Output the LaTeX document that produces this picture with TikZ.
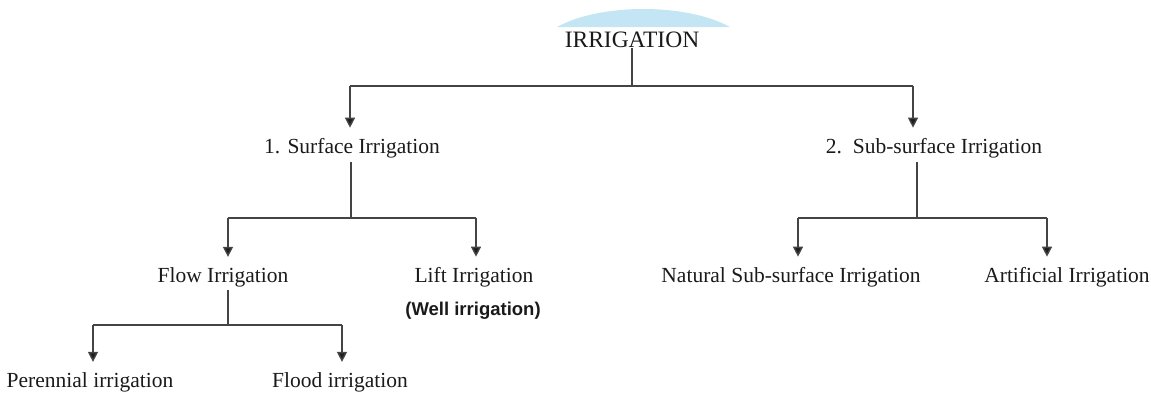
\documentclass[tikz,border=0pt]{standalone}
\usepackage{fontspec}
\setmainfont{Liberation Serif}
\newfontfamily\wellfont{Liberation Sans}
\usetikzlibrary{arrows.meta}
\definecolor{linegray}{HTML}{444444}
\definecolor{tipgray}{HTML}{1E1E1E}
\definecolor{txtgray}{HTML}{1A1A1A}
\definecolor{arcblue}{HTML}{C4E6F4}
\tikzset{
  lbl/.style={anchor=base, inner xsep=0pt, inner ysep=1pt, text=txtgray,
    font=\fontsize{21.5}{24}\selectfont},
  toplbl/.style={lbl, font=\fontsize{23.5}{26}\selectfont},
  welllbl/.style={anchor=base, inner sep=0pt, text=txtgray,
    font=\wellfont\bfseries\fontsize{18.5}{21}\selectfont},
  ln/.style={draw=linegray, line width=1.4pt},
  arr/.style={ln, -{Triangle[width=10pt,length=10pt,fill=tipgray]}, shorten >=9pt}
}
\begin{document}
\begin{tikzpicture}[x=1pt,y=-1pt]
\useasboundingbox (0,0) rectangle (1151,392);
% light blue arc at top
\fill[arcblue] (557,27) .. controls (600,3) and (687,3) .. (730,27) -- cycle;

% nodes
\node[toplbl] (irr) at (632,47) {IRRIGATION};
\node[lbl] (surf) at (352,153) {1. Surface Irrigation};
\node[lbl] (sub) at (934,153) {2.\, Sub-surface Irrigation};
\node[lbl] (flow) at (223,282) {Flow Irrigation};
\node[lbl] (lift) at (474,282) {Lift Irrigation};
\node[welllbl] (well) at (473,315) {(Well irrigation)};
\node[lbl] (nat) at (791,282) {Natural Sub-surface Irrigation};
\node[lbl] (art) at (1067,282) {Artificial Irrigation};
\node[lbl] (per) at (90,387) {Perennial irrigation};
\node[lbl] (flood) at (340,387) {Flood irrigation};

% junction coordinates
\coordinate (j0) at (632,86);
\coordinate (c1l) at (350,86);
\coordinate (c1r) at (913,86);
\coordinate (j1) at (351,218);
\coordinate (c2l) at (228,218);
\coordinate (c2r) at (476,218);
\coordinate (j2) at (917,218);
\coordinate (c3l) at (798,218);
\coordinate (c3r) at (1047,218);
\coordinate (j3) at (228,325);
\coordinate (c4l) at (93,325);
\coordinate (c4r) at (342,325);

% level 1
\draw[ln] (irr.south -| j0) -- (j0);
\draw[ln] (c1l) -- (c1r);
\draw[arr] (c1l) -- (c1l |- surf.north);
\draw[arr] (c1r) -- (c1r |- sub.north);

% surface irrigation
\draw[ln] ([yshift=-3pt]surf.south -| j1) -- (j1);
\draw[ln] (c2l) -- (c2r);
\draw[arr] (c2l) -- (c2l |- flow.north);
\draw[arr] (c2r) -- (c2r |- lift.north);

% sub-surface irrigation
\draw[ln] ([yshift=-3pt]sub.south -| j2) -- (j2);
\draw[ln] (c3l) -- (c3r);
\draw[arr] (c3l) -- (c3l |- nat.north);
\draw[arr] (c3r) -- (c3r |- art.north);

% flow irrigation
\draw[ln] ([yshift=-2pt]flow.south -| j3) -- (j3);
\draw[ln] (c4l) -- (c4r);
\draw[arr] (c4l) -- (c4l |- per.north);
\draw[arr] (c4r) -- (c4r |- flood.north);
\end{tikzpicture}
\end{document}
